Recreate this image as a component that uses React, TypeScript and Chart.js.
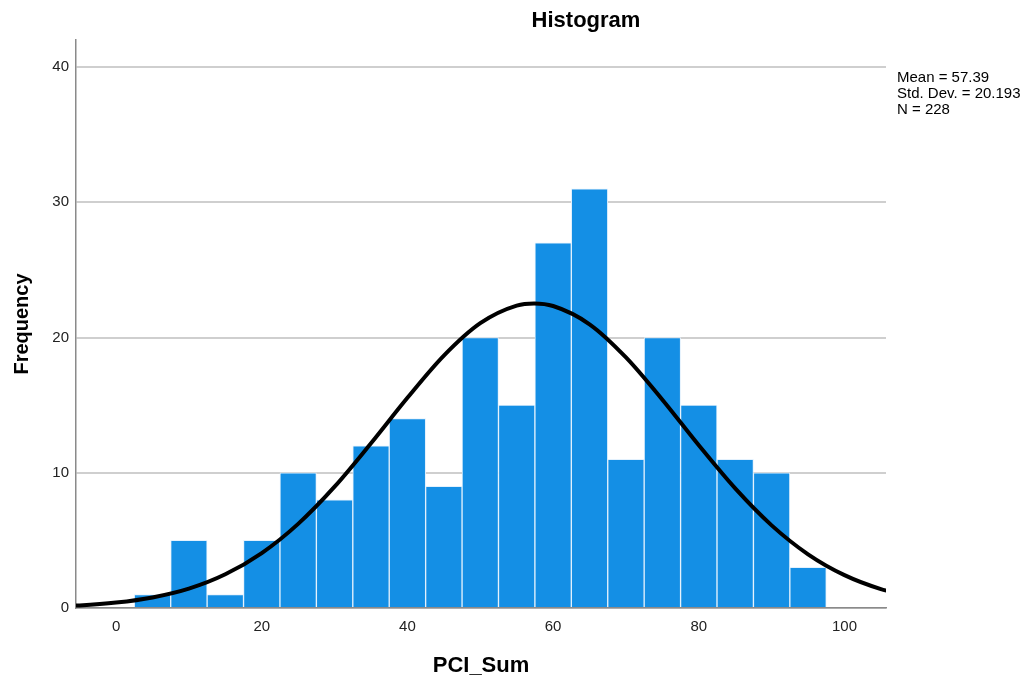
import React, { useEffect, useRef } from "react";
import { Chart, registerables } from "chart.js";

Chart.register(...registerables);

// Histogram bins (bin centers, width 5)
const binCenters = [5, 10, 15, 20, 25, 30, 35, 40, 45, 50, 55, 60, 65, 70, 75, 80, 85, 90, 95];
const frequencies = [1, 5, 1, 5, 10, 8, 12, 14, 9, 20, 15, 27, 31, 11, 20, 15, 11, 10, 3];

// Normal curve values
const curveX = [-10, -5, 0, 5, 10, 15, 20, 25, 30, 35, 40, 45, 50, 55, 57.39, 60, 65, 70, 75, 80, 85, 90, 95, 100, 105, 110];
const curveY = [0.09, 0.19, 0.4, 0.78, 1.43, 2.49, 4.06, 6.22, 8.97, 12.18, 15.54, 18.66, 21.06, 22.36, 22.52, 22.33, 20.98, 18.53, 15.4, 12.03, 8.84, 6.11, 3.97, 2.43, 1.4, 0.76];

const statsLines = ["Mean = 57.39", "Std. Dev. = 20.193", "N = 228"];
const chartTitle = "Histogram";
const xTitle = "PCI_Sum";
const yTitle = "Frequency";

const FONT = 'Arial, "Liberation Sans", sans-serif';

const textPlugin = {
  id: "spssText",
  afterDraw(chart: any) {
    const ctx = chart.ctx;
    const area = chart.chartArea;
    ctx.save();
    ctx.fillStyle = "#000";
    ctx.font = `bold 22px ${FONT}`;
    ctx.textAlign = "center";
    ctx.textBaseline = "middle";
    ctx.fillText(chartTitle, 586, 21);
    ctx.font = `15px ${FONT}`;
    ctx.textAlign = "left";
    statsLines.forEach((t, i) => {
      ctx.fillText(t, area.right + 11, 78 + i * 16);
    });
    ctx.restore();
  },
};

export default function App() {
  const ref = useRef<HTMLCanvasElement | null>(null);

  useEffect(() => {
    if (!ref.current) return;
    const chart = new Chart(ref.current, {
      type: "bar",
      data: {
        datasets: [
          {
            type: "line",
            data: curveX.map((x, i) => ({ x, y: curveY[i] })),
            borderColor: "#000",
            borderWidth: 4,
            pointRadius: 0,
            fill: false,
            cubicInterpolationMode: "monotone",
          } as any,
          {
            type: "bar",
            data: binCenters.map((x, i) => ({ x, y: frequencies[i] })),
            backgroundColor: "#148fe5",
            borderColor: "#e3f1fd",
            borderWidth: 1,
            barPercentage: 1,
            categoryPercentage: 1,
          } as any,
        ],
      },
      options: {
        animation: false,
        responsive: false,
        maintainAspectRatio: false,
        layout: { padding: { top: 40, right: 141, left: 0, bottom: 0 } },
        plugins: {
          legend: { display: false },
          tooltip: { enabled: false },
          title: { display: false },
        },
        scales: {
          x: {
            type: "linear",
            min: -5.5,
            max: 105.7,
            offset: false,
            grid: { display: false, drawTicks: false },
            border: { display: true, color: "#8a8a8a", width: 1.5 },
            ticks: {
              stepSize: 20,
              includeBounds: false,
              color: "#222",
              font: { family: FONT, size: 15 },
              padding: 10,
              maxRotation: 0,
            },
            title: {
              display: true,
              text: xTitle,
              color: "#000",
              font: { family: FONT, size: 22, weight: "bold" },
              padding: { top: 0, bottom: 5 },
            },
            afterFit: (s: any) => {
              s.height = 76;
            },
          },
          y: {
            type: "linear",
            min: 0,
            max: 42,
            grid: { display: true, color: "#cfcfcf", lineWidth: 2, drawTicks: false },
            border: { display: true, color: "#8a8a8a", width: 1.5 },
            ticks: {
              stepSize: 10,
              includeBounds: false,
              color: "#222",
              font: { family: FONT, size: 15 },
              padding: 7,
            },
            title: {
              display: true,
              text: yTitle,
              color: "#000",
              font: { family: FONT, size: 20, weight: "bold" },
              padding: { top: 10, bottom: 0 },
            },
            afterFit: (s: any) => {
              s.width = 76;
            },
          },
        },
      },
      plugins: [textPlugin],
    });
    return () => chart.destroy();
  }, []);

  return (
    <div style={{ position: "fixed", left: 0, top: 0, width: 1027, height: 684, background: "#fff" }}>
      <canvas ref={ref} width={1027} height={684} style={{ width: 1027, height: 684 }} />
    </div>
  );
}
